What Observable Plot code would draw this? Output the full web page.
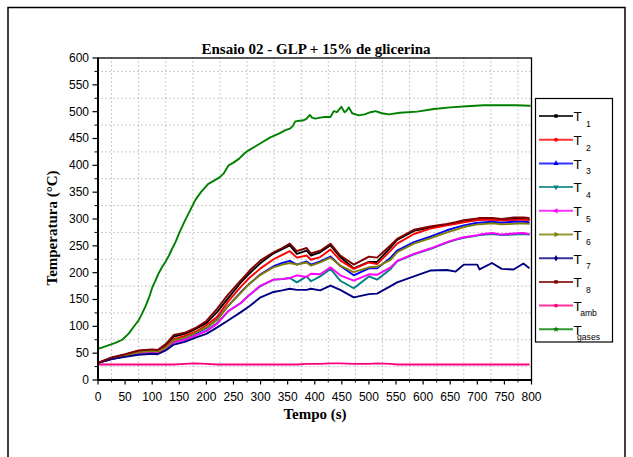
<!DOCTYPE html>
<html><head><meta charset="utf-8">
<script src="https://cdn.jsdelivr.net/npm/d3@7"></script>
<script src="https://cdn.jsdelivr.net/npm/@observablehq/plot@0.6"></script>
<style>body{margin:0;background:#fff}</style>
</head><body><div id="chart"></div>
<script>
const title = "Ensaio 02 - GLP + 15% de glicerina";
const xLabel = "Tempo (s)";
const yLabel = "Temperatura (°C)";
const seriesNames = ["T1","T2","T3","T4","T5","T6","T7","T8","Tamb","Tgases"];
const legendSubs = ["1","2","3","4","5","6","7","8","amb","gases"];
const seriesColors = ["#000000","#ff0000","#0000ff","#008080","#ff00ff","#808000","#000080","#800000","#ff0080","#008000"];
const xTicks = d3.range(0, 801, 50);
const yTicks = d3.range(0, 601, 50);

const times = [0,25,50,75,100,110,125,140,160,180,200,220,240,263,280,300,324,340,354,367,385,393,410,429,447,472,500,515,540,552,583,613,644,660,675,700,704,727,745,767,785,795];
const T1 = [32,41,47,54,56,55,64,81,86,95,106,127,152,181,199,218,236,244,251,235,241,232,238,251,229,208,220,220,247,261,278,284,289,292,296,298,299,300,298,300,300,299];
const T2 = [32,40,46,53,55,54,62,76,82,90,102,118,146,173,191,208,225,233,240,228,232,224,229,243,223,207,219,216,241,254,272,282,288,291,294,298,298,299,297,298,299,298];
const T3 = [32,40,45,52,54,53,60,73,79,87,97,113,138,163,180,197,212,218,222,215,221,215,221,230,213,195,208,208,228,241,257,267,279,284,288,293,293,295,293,295,295,294];
const T4 = [32,39,44,50,52,51,58,70,75,83,92,106,128,143,159,175,187,188,190,182,193,184,193,207,185,171,193,187,207,221,234,244,256,261,265,269,270,272,270,271,272,271];
const T5 = [32,39,44,50,52,51,58,70,75,83,91,105,128,143,159,176,187,188,190,195,192,198,197,210,195,185,197,196,210,222,235,245,257,262,266,270,271,274,271,273,274,272];
const T6 = [32,40,45,52,54,53,60,74,79,88,98,112,138,162,180,196,210,215,218,215,219,213,219,228,213,201,210,211,224,238,254,264,275,280,285,290,290,292,290,291,292,291];
const T7 = [32,39,43,47,49,48,55,66,71,79,86,98,111,126,138,154,164,167,170,168,168,170,167,176,168,154,160,161,175,182,193,204,205,202,215,215,206,218,207,206,217,209];
const T8 = [32,42,48,55,57,56,67,84,88,97,110,133,159,185,204,223,238,246,254,240,246,236,241,254,232,215,230,228,251,263,280,286,291,294,298,301,302,302,300,303,303,302];
const Tamb = [29,29,29,29,29,29,29,29,30,31,30,29,29,29,29,29,29,29,29,29,30,30,30,31,31,30,30,31,30,29,29,29,29,29,29,29,29,29,29,29,29,29];
const timesGases = [0,15,32,45,57,68,75,82,88,95,100,106,112,118,125,131,137,143,150,160,170,180,190,203,215,225,232,241,250,260,270,278,290,303,318,334,345,355,360,364,372,380,385,391,395,401,410,418,429,435,441,449,455,459,463,469,481,492,503,512,524,537,557,589,620,650,681,712,743,773,797];
const Tgases = [58,63,69,75,87,102,111,125,138,156,172,185,199,210,221,232,245,257,274,296,316,336,350,365,372,378,385,400,405,412,422,428,435,443,452,459,465,469,474,482,483,484,487,494,489,487,489,490,490,501,499,509,499,502,508,497,493,495,499,501,497,495,498,500,505,508,510,512,512,512,511];

const seriesValues = [T1,T2,T3,T4,T5,T6,T7,T8,Tamb,Tgases];
const rows = [];
seriesNames.forEach((name, i) => {
  const ts = name === "Tgases" ? timesGases : times;
  seriesValues[i].forEach((v, j) => rows.push({t: ts[j], v, s: name}));
});

const W = 633, H = 457;
const mL = 97.5, mR = 102, mT = 57.5, mB = 77.5;

const chart = Plot.plot({
  width: W, height: H,
  marginLeft: mL, marginRight: mR, marginTop: mT, marginBottom: mB,
  style: {fontFamily: "'Liberation Sans', Arial, sans-serif", background: "#fff", color: "#000"},
  x: {domain: [0, 800]},
  y: {domain: [0, 600]},
  color: {domain: seriesNames, range: seriesColors},
  marks: [
    Plot.ruleX(d3.range(25, 800, 50), {stroke: "#9a9a9a", strokeWidth: 1, strokeDasharray: "1,3"}),
    Plot.ruleY(d3.range(25, 600, 50), {stroke: "#9a9a9a", strokeWidth: 1, strokeDasharray: "1,3"}),
    Plot.line(rows, {x: "t", y: "v", z: "s", stroke: "s", strokeWidth: 1.9, curve: "linear"}),
    Plot.frame({stroke: "#000", strokeWidth: 1.3}),
    Plot.axisX({ticks: xTicks, tickSize: 5, tickPadding: 7, fontSize: 12, label: null, strokeWidth: 1.2}),
    Plot.axisX({ticks: d3.range(25, 800, 50), tickSize: 3, tickFormat: () => "", label: null}),
    Plot.axisY({ticks: yTicks, tickSize: 5, tickPadding: 4, fontSize: 12, label: null, strokeWidth: 1.2}),
    Plot.axisY({ticks: d3.range(25, 600, 50), tickSize: 3, tickFormat: () => "", label: null}),
    Plot.ruleX([0], {stroke: "#000", strokeWidth: 2}),
    Plot.ruleY([0], {stroke: "#000", strokeWidth: 2})
  ]
});

const svg = d3.select(chart);
// outer border
svg.append("rect").attr("x", 8).attr("y", 7.5).attr("width", 617).attr("height", 470)
  .attr("fill", "none").attr("stroke", "#000").attr("stroke-width", 1.5);
const serif = "'Liberation Serif', 'Times New Roman', serif";
svg.append("text").attr("x", 316).attr("y", 54).attr("text-anchor", "middle")
  .attr("font-family", serif).attr("font-weight", "bold").attr("font-size", 15).text(title);
svg.append("text").attr("x", 315).attr("y", 419).attr("text-anchor", "middle")
  .attr("font-family", serif).attr("font-weight", "bold").attr("font-size", 15).text(xLabel);
svg.append("text").attr("transform", "translate(57,228) rotate(-90)").attr("text-anchor", "middle")
  .attr("font-family", serif).attr("font-weight", "bold").attr("font-size", 15).text(yLabel);

// legend
const lg = svg.append("g");
lg.append("rect").attr("x", 535.5).attr("y", 98.5).attr("width", 77).attr("height", 243.5)
  .attr("fill", "#fff").attr("stroke", "#000").attr("stroke-width", 1.2);
const symTypes = [d3.symbolSquare, d3.symbolCircle, d3.symbolTriangle, d3.symbolTriangle, d3.symbolTriangle, d3.symbolTriangle, d3.symbolDiamond, d3.symbolSquare, d3.symbolCircle, d3.symbolStar];
const symRot = [0, 0, 0, 180, -90, 90, 0, 0, 0, 0];
const sans = "'Liberation Sans', Arial, sans-serif";
seriesNames.forEach((name, i) => {
  const y = 116 + i * 23.7;
  lg.append("line").attr("x1", 539).attr("x2", 573).attr("y1", y).attr("y2", y)
    .attr("stroke", seriesColors[i]).attr("stroke-width", 2).attr("stroke-opacity", 0.8);
  lg.append("path").attr("d", d3.symbol(symTypes[i], 12)())
    .attr("transform", `translate(556,${y}) rotate(${symRot[i]})`).attr("fill", seriesColors[i]);
  lg.append("text").attr("x", 577.5).attr("y", y + 5.3)
    .attr("font-family", sans).attr("font-size", 13.5).attr("fill", "#000").text("T");
  lg.append("text").attr("x", 588.5).attr("y", y + 10.8)
    .attr("font-family", sans).attr("font-size", 8.6).attr("fill", "#000").text(legendSubs[i]);
});

document.getElementById("chart").appendChild(chart);
</script></body></html>
